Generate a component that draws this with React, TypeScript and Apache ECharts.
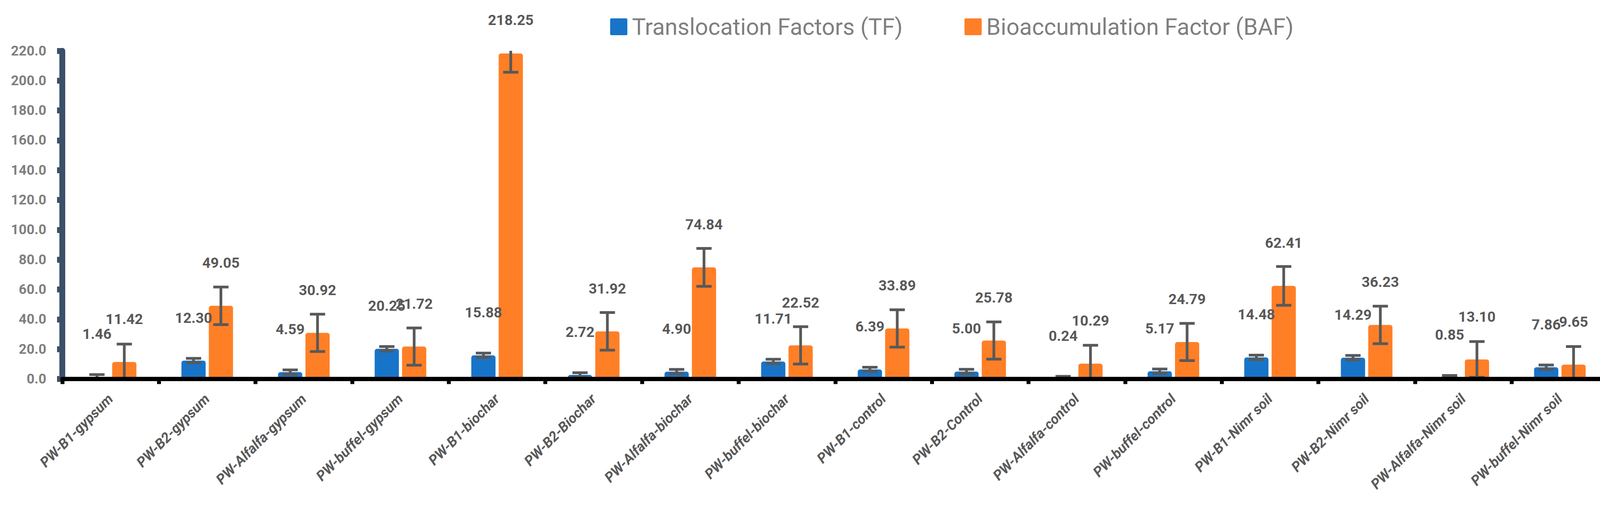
import React, { useEffect, useRef } from "react";
import * as echarts from "echarts";

const categories = [
  "PW-B1-gypsum", "PW-B2-gypsum", "PW-Alfalfa-gypsum", "PW-buffel-gypsum",
  "PW-B1-biochar", "PW-B2-Biochar", "PW-Alfalfa-biochar", "PW-buffel-biochar",
  "PW-B1-control", "PW-B2-Control", "PW-Alfalfa-control", "PW-buffel-control",
  "PW-B1-Nimr soil", "PW-B2-Nimr soil", "PW-Alfalfa-Nimr soil", "PW-buffel-Nimr soil",
];
const tfValues = [1.46, 12.3, 4.59, 20.25, 15.88, 2.72, 4.9, 11.71, 6.39, 5.0, 0.24, 5.17, 14.48, 14.29, 0.85, 7.86];
const bafValues = [11.42, 49.05, 30.92, 21.72, 218.25, 31.92, 74.84, 22.52, 33.89, 25.78, 10.29, 24.79, 62.41, 36.23, 13.1, 9.65];
const tfErrors = [1.5, 1.5, 1.5, 1.5, 1.5, 1.5, 1.5, 1.5, 1.5, 1.5, 1.5, 1.5, 1.5, 1.5, 1.5, 1.5];
const bafErrors = [12.0, 12.6, 12.5, 12.5, 12.6, 12.6, 12.7, 12.5, 12.5, 12.5, 12.3, 12.5, 13.0, 12.6, 12.0, 12.1];
const seriesNames = ["Translocation Factors (TF)", "Bioaccumulation Factor (BAF)"];
const yMin = 0;
const yMax = 220;
const yInterval = 20;

const BLUE = "#1874C8";
const ORANGE = "#FF7F27";
const ERR = "#595959";
const FONT = "Roboto";
const LEGEND_ICON = "path://M3,0 H41 Q44,0 44,3 V40 Q44,43 41,43 H3 Q0,43 0,40 V3 Q0,0 3,0 Z";

function errorRenderer(offset: number) {
  return (params: any, api: any) => {
    const i = api.value(0);
    const v = api.value(1);
    const e = api.value(2);
    const cs = params.coordSys;
    const top = api.coord([i, v + e]);
    const bot = api.coord([i, v - e]);
    const x = top[0] + offset;
    const yMinPx = cs.y;
    const yMaxPx = cs.y + cs.height;
    const y1 = Math.max(yMinPx, top[1]);
    const y2 = Math.min(yMaxPx, bot[1]);
    const children: any[] = [
      { type: "rect", shape: { x: x - 3.5, y: y1, width: 7, height: y2 - y1 }, style: { fill: ERR } },
    ];
    if (top[1] >= yMinPx) {
      children.push({ type: "rect", shape: { x: x - 19.5, y: top[1] - 3.5, width: 39, height: 7 }, style: { fill: ERR } });
    }
    if (bot[1] <= yMaxPx - 4) {
      children.push({ type: "rect", shape: { x: x - 19.5, y: bot[1] - 3.5, width: 39, height: 7 }, style: { fill: ERR } });
    }
    return { type: "group", children };
  };
}

function barData(values: number[]) {
  return values.map((v) => ({
    value: v,
    label: { distance: v > 200 ? 67 : 91 },
  }));
}

export default function App() {
  const ref = useRef<HTMLDivElement>(null);
  useEffect(() => {
    if (!ref.current) return;
    const chart = echarts.init(ref.current, undefined, { renderer: "svg" });
    const labelStyle = {
      show: true,
      position: "top" as const,
      formatter: (p: any) => Number(p.value).toFixed(2),
      fontFamily: FONT,
      fontWeight: "bold" as const,
      fontSize: 37,
      color: "#595959",
    };
    chart.setOption({
      animation: false,
      backgroundColor: "#ffffff",
      legend: {
        left: 1557,
        top: 34,
        itemWidth: 44,
        itemHeight: 43,
        itemGap: 158,
        icon: LEGEND_ICON,
        textStyle: { fontFamily: FONT, fontSize: 59, color: "#7F7F7F", padding: [0, 0, 0, 7] },
        data: seriesNames,
      },
      grid: { left: 159.5, right: 31, top: 130, bottom: 327.5, containLabel: false },
      xAxis: {
        type: "category",
        data: categories,
        z: 5,
        axisLine: { show: true, lineStyle: { color: "#000000", width: 11 } },
        axisTick: { show: true, interval: 0, alignWithLabel: false, length: 13, lineStyle: { color: "#000000", width: 10 } },
        axisLabel: {
          interval: 0,
          rotate: 45,
          margin: 45,
          fontFamily: FONT,
          fontWeight: "bold",
          fontStyle: "italic",
          fontSize: 36,
          color: "#595959",
        },
        splitLine: { show: false },
      },
      yAxis: {
        type: "value",
        min: yMin,
        max: yMax,
        interval: yInterval,
        axisLine: { show: true, lineStyle: { color: "#3B5068", width: 15 } },
        axisTick: { show: true, length: 13.5, lineStyle: { color: "#3B5068", width: 15 } },
        axisLabel: {
          margin: 41,
          formatter: (v: number) => v.toFixed(1),
          fontFamily: FONT,
          fontWeight: "bold",
          fontSize: 35,
          color: "#7F7F7F",
        },
        splitLine: { show: false },
      },
      series: [
        {
          name: seriesNames[0],
          type: "bar",
          barWidth: 62,
          barGap: "13%",
          itemStyle: { color: BLUE, borderRadius: [6, 6, 0, 0] },
          label: labelStyle,
          data: barData(tfValues),
          z: 2,
        },
        {
          name: seriesNames[1],
          type: "bar",
          barWidth: 62,
          barGap: "13%",
          itemStyle: { color: ORANGE, borderRadius: [6, 6, 0, 0] },
          label: labelStyle,
          data: barData(bafValues),
          z: 2,
        },
        {
          type: "custom",
          name: "tf-err",
          renderItem: errorRenderer(-35),
          data: tfValues.map((v, i) => [i, v, tfErrors[i]]),
          encode: { x: 0, y: 1 },
          z: 3,
          silent: true,
        },
        {
          type: "custom",
          name: "baf-err",
          renderItem: errorRenderer(35),
          data: bafValues.map((v, i) => [i, v, bafErrors[i]]),
          encode: { x: 0, y: 1 },
          z: 3,
          silent: true,
        },
      ],
    });
    return () => chart.dispose();
  }, []);
  return (
    <div
      ref={ref}
      style={{ position: "fixed", left: 0, top: 0, width: 4148, height: 1297, background: "#fff" }}
    />
  );
}
